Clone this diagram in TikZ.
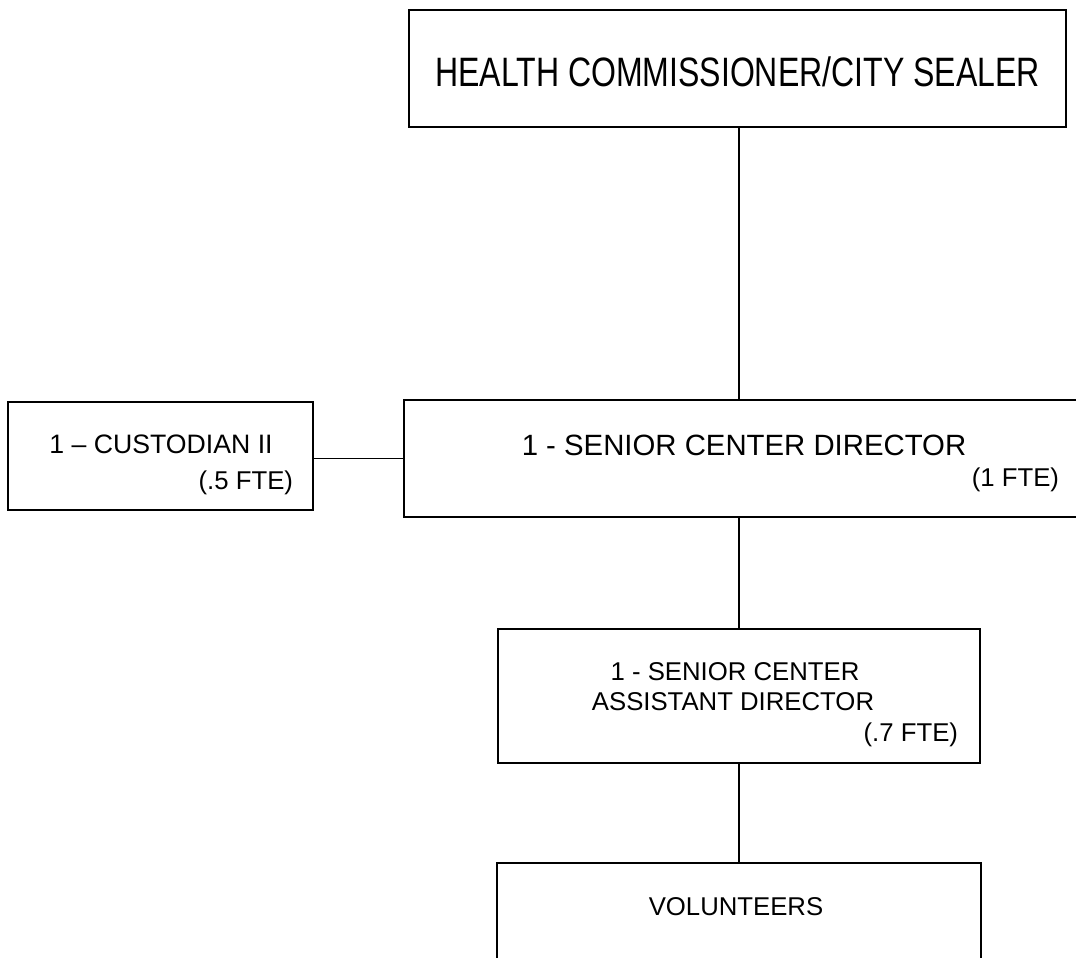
\documentclass[tikz,border=0pt]{standalone}
\usepackage{fontspec}
\setmainfont{Liberation Sans}
\newfontfamily\narrowfont[FakeStretch=0.78]{Liberation Sans}
\begin{document}
\begin{tikzpicture}[x=0.75pt,y=-0.75pt,
  box/.style={draw,line width=1.2pt,inner sep=0pt,outer sep=0pt},
  conn/.style={line width=0.9pt},
  lbl/.style={inner sep=0pt,outer sep=0pt,font=\fontsize{19.3}{23}\selectfont},
  custlbl/.style={inner sep=0pt,outer sep=0pt,font=\fontsize{20}{24}\selectfont},
  biglbl/.style={inner sep=0pt,outer sep=0pt,font=\fontsize{22}{26}\selectfont},
  toplbl/.style={inner sep=0pt,outer sep=0pt,font=\fontsize{30.8}{36}\narrowfont}]
\useasboundingbox (0,0) rectangle (1076,958);
\clip (0,0) rectangle (1076,958);
% boxes
\node[box,minimum width=492.75pt,minimum height=87.75pt] (top) at (737.5,68.5) {};
\node[box,minimum width=505.5pt,minimum height=87.75pt] (dir) at (741,458.5) {};
\node[box,minimum width=228.75pt,minimum height=81pt] (cust) at (160.5,456) {};
\node[box,minimum width=361.5pt,minimum height=100.5pt] (asst) at (739,696) {};
\node[box,minimum width=363pt,minimum height=102.75pt] (vol) at (739,931.5) {};
% texts
\node[toplbl,anchor=base] (t1) at (737.5,86) {HEALTH COMMISSIONER/CITY SEALER};
\node[biglbl,anchor=base] (d1) at (744,455) {1 - SENIOR CENTER DIRECTOR};
\node[lbl,anchor=base east] (d2) at (1059,486) {(1 FTE)};
\node[custlbl,anchor=base] (c1) at (161,453) {1 – CUSTODIAN II};
\node[lbl,anchor=base east] (c2) at (293,489) {(.5 FTE)};
\node[lbl,anchor=base] (a1) at (735,680) {1 - SENIOR CENTER};
\node[lbl,anchor=base] (a2) at (733,710) {ASSISTANT DIRECTOR};
\node[lbl,anchor=base east] (a3) at (958,741) {(.7 FTE)};
\node[lbl,anchor=base] (v1) at (736,915) {VOLUNTEERS};
% connectors
\coordinate (trunk) at (739,0);
\draw[conn] (top.south -| trunk) -- (dir.north -| trunk);
\draw[conn] (dir.west -| cust.east) -- (dir.west);
\draw[conn] (dir.south -| trunk) -- (asst.north -| trunk);
\draw[conn] (asst.south -| trunk) -- (vol.north -| trunk);
\end{tikzpicture}
\end{document}
